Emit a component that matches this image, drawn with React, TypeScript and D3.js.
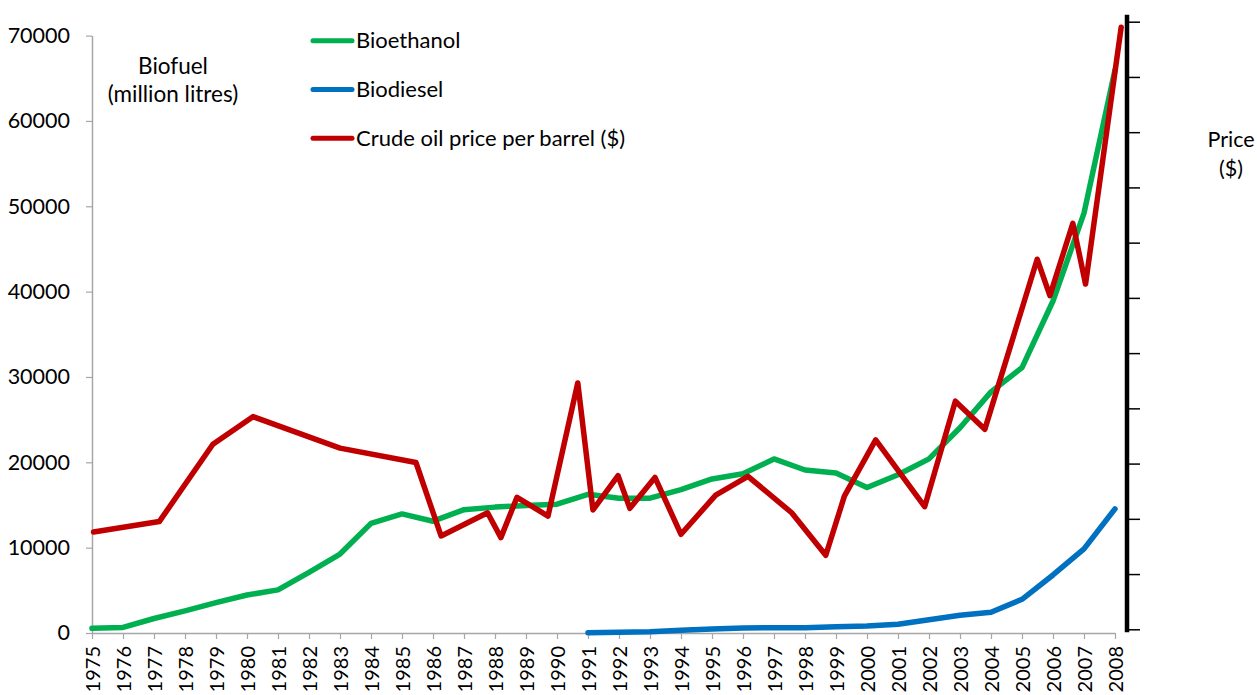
import React, { useEffect, useRef } from "react";
import * as d3 from "d3";

const years = d3.range(1975, 2009);

const bioethanol = [
  550, 650, 1700, 2600, 3550, 4450, 5050, 7100, 9250, 12850, 13950, 13100,
  14450, 14750, 14950, 15100, 16250, 15800, 15800, 16800, 18050, 18650, 20400,
  19100, 18750, 17050, 18550, 20400, 24050, 28250, 31100, 38900, 49200, 66000,
];

const biodieselYears = d3.range(1991, 2009);
const biodiesel = [
  30, 80, 150, 330, 480, 600, 620, 620, 740, 820, 1020, 1550, 2080, 2430, 3950,
  6800, 9850, 14550,
];

const oilYears = [
  1975.05, 1977.17, 1978.9, 1980.19, 1983.0, 1985.45, 1986.26, 1987.76, 1988.19,
  1988.71, 1989.71, 1990.67, 1991.16, 1991.97, 1992.35, 1993.16, 1994.0,
  1995.12, 1996.16, 1997.57, 1998.67, 1999.27, 2000.28, 2001.86, 2002.85,
  2003.8, 2005.49, 2005.9, 2006.64, 2007.05, 2008.2,
];
const oilPrices = [
  17.6, 19.5, 33.5, 38.5, 32.8, 30.2, 16.9, 21.1, 16.6, 23.9, 20.5, 44.6, 21.6,
  27.8, 21.9, 27.5, 17.2, 24.3, 27.7, 21.1, 13.4, 24.1, 34.3, 22.2, 41.3, 36.2,
  67.0, 60.4, 73.5, 62.5, 109.0,
];

const leftTicks = [0, 10000, 20000, 30000, 40000, 50000, 60000, 70000];
const rightTicks = d3.range(0, 111, 10);

const legendItems = [
  { label: "Bioethanol", color: "#00B050" },
  { label: "Biodiesel", color: "#0070C0" },
  { label: "Crude oil price per barrel ($)", color: "#C00000" },
];

const W = 1257;
const H = 695;
const FONT = "Lato, 'Open Sans', sans-serif";

export default function App() {
  const xAxisRef = useRef<SVGGElement>(null);
  const yAxisRef = useRef<SVGGElement>(null);
  const rAxisRef = useRef<SVGGElement>(null);

  const x = d3.scaleLinear().domain([1975, 2008]).range([92, 1115]);
  const y = d3.scaleLinear().domain([0, 70000]).range([633, 35.6]);
  const yR = d3.scaleLinear().domain([0, 110]).range([629.3, 21.7]);

  const line = d3
    .line<[number, number]>()
    .x((d) => x(d[0]))
    .y((d) => y(d[1]));
  const lineR = d3
    .line<[number, number]>()
    .x((d) => x(d[0]))
    .y((d) => yR(d[1]));

  const ethPath = line(years.map((yr, i) => [yr, bioethanol[i]]));
  const dieselPath = line(biodieselYears.map((yr, i) => [yr, biodiesel[i]]));
  const oilPath = lineR(oilYears.map((yr, i) => [yr, oilPrices[i]]));

  useEffect(() => {
    const gx = d3.select(xAxisRef.current!);
    gx.selectAll("*").remove();
    gx.call(
      d3
        .axisBottom(x)
        .tickValues(years)
        .tickFormat((d) => String(d))
        .tickSize(6)
        .tickSizeOuter(0)
    );
    gx.selectAll("path.domain").attr("stroke", "#A6A6A6").attr("stroke-width", 1.5);
    gx.selectAll(".tick line").attr("stroke", "#A6A6A6").attr("stroke-width", 1.2);
    gx.selectAll(".tick text")
      .attr("transform", "rotate(-90)")
      .attr("text-anchor", "end")
      .attr("x", -13)
      .attr("y", 0)
      .attr("dy", "0.36em")
      .attr("fill", "#000")
      .style("font-family", FONT)
      .style("font-size", "20px");

    const gy = d3.select(yAxisRef.current!);
    gy.selectAll("*").remove();
    gy.call(
      d3
        .axisLeft(y)
        .tickValues(leftTicks)
        .tickFormat((d) => String(d))
        .tickSize(6)
        .tickSizeOuter(0)
    );
    gy.selectAll("path.domain").attr("stroke", "#A6A6A6").attr("stroke-width", 1.5);
    gy.selectAll(".tick line").attr("stroke", "#A6A6A6").attr("stroke-width", 1.2);
    gy.selectAll(".tick text")
      .attr("x", -22)
      .attr("fill", "#000")
      .style("font-family", FONT)
      .style("font-size", "21.5px");

    const gr = d3.select(rAxisRef.current!);
    gr.selectAll("*").remove();
    gr.call(
      d3
        .axisRight(yR)
        .tickValues(rightTicks)
        .tickFormat(() => "")
        .tickSize(13)
        .tickSizeOuter(0)
    );
    gr.selectAll("path.domain").remove();
    gr.selectAll(".tick line").attr("stroke", "#000").attr("stroke-width", 1.5);
    gr.insert("line", ":first-child")
      .attr("x1", 0)
      .attr("x2", 0)
      .attr("y1", yR.range()[1] - 7)
      .attr("y2", yR.range()[0] + 3)
      .attr("stroke", "#000")
      .attr("stroke-width", 4.5);
  }, []);

  return (
    <svg
      width={W}
      height={H}
      viewBox={`0 0 ${W} ${H}`}
      style={{ position: "absolute", left: 0, top: 0, display: "block", background: "#fff" }}
      fontFamily={FONT}
    >
      <rect width={W} height={H} fill="#fff" />
      <g ref={xAxisRef} transform={`translate(0,${y(0)})`} />
      <g ref={yAxisRef} transform={`translate(${x(1975)},0)`} />
      <g ref={rAxisRef} transform={`translate(1127,0)`} />

      <path d={ethPath ?? ""} fill="none" stroke="#00B050" strokeWidth={5.5} strokeLinejoin="round" strokeLinecap="round" />
      <path d={dieselPath ?? ""} fill="none" stroke="#0070C0" strokeWidth={5.5} strokeLinejoin="round" strokeLinecap="round" />
      <path d={oilPath ?? ""} fill="none" stroke="#C00000" strokeWidth={5.5} strokeLinejoin="round" strokeLinecap="round" />

      <text x={173} y={74} textAnchor="middle" fontSize={22.5} fill="#000">Biofuel</text>
      <text x={173} y={102} textAnchor="middle" fontSize={22.5} fill="#000">(million litres)</text>

      <text x={1231} y={147} textAnchor="middle" fontSize={21.5} fill="#000">Price</text>
      <text x={1231} y={176} textAnchor="middle" fontSize={21.5} fill="#000">($)</text>

      {legendItems.map((it, i) => (
        <g key={it.label} transform={`translate(0,${40.7 + i * 48.8})`}>
          <line x1={313} x2={352} y1={0} y2={0} stroke={it.color} strokeWidth={5} strokeLinecap="round" />
          <text x={356} y={0} dy="0.35em" fontSize={22} fill="#000">{it.label}</text>
        </g>
      ))}
    </svg>
  );
}
